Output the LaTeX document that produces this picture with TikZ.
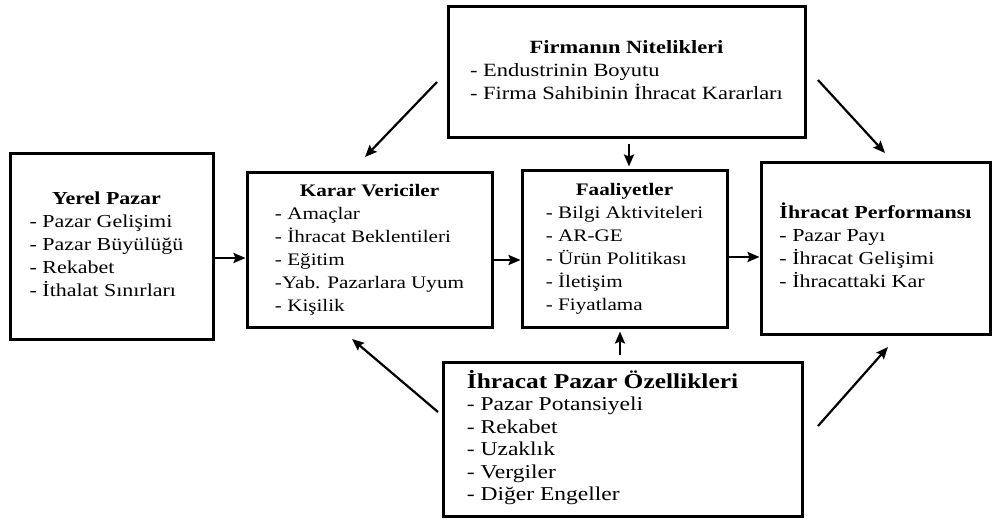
\documentclass[tikz,border=0pt]{standalone}
\usepackage{fontspec}
\setmainfont[FakeStretch=1.2]{Liberation Serif}
\usetikzlibrary{arrows.meta}
\newcommand{\blk}[2]{\begin{tabular}{@{}l@{}}\multicolumn{1}{@{}c@{}}{\textbf{#1}}\\#2\end{tabular}}
\begin{document}
\begin{tikzpicture}[x=1pt,y=-1pt,
  box/.style={draw,line width=3pt,rectangle,inner sep=0pt,font=\fontsize{18.3}{23}\selectfont},
  arr/.style={line width=2.2pt,-{Stealth[length=12pt,width=10pt,inset=2pt]}}]
\useasboundingbox (0,0) rectangle (993,519);
\fill[white] (0,0) rectangle (993,519);
% boxes
\node[box,minimum width=203pt,minimum height=186pt] (yerel) at (111.5,246)
  {\blk{Yerel Pazar}{- Pazar Gelişimi\\- Pazar Büyülüğü\\- Rekabet\\- İthalat Sınırları}\hspace*{10pt}};
\node[box,minimum width=245pt,minimum height=155pt,font=\fontsize{17.6}{23}\selectfont] (karar) at (369.5,249.5)
  {\blk{Karar Vericiler}{- Amaçlar\\- İhracat Beklentileri\\- Eğitim\\-Yab. Pazarlara Uyum\\- Kişilik}};
\node[box,minimum width=205pt,minimum height=157pt,font=\fontsize{17.6}{23}\selectfont] (faal) at (624.5,248.5)
  {\blk{Faaliyetler}{- Bilgi Aktiviteleri\\- AR-GE\\- Ürün Politikası\\- İletişim\\- Fiyatlama}};
\node[box,minimum width=229pt,minimum height=172pt] (perf) at (875.5,248)
  {\blk{İhracat Performansı}{- Pazar Payı\\- İhracat Gelişimi\\- İhracattaki Kar}};
\node[box,minimum width=357pt,minimum height=130pt,font=\fontsize{18.7}{23}\selectfont] (firma) at (626.5,72)
  {\blk{Firmanın Nitelikleri}{- Endustrinin Boyutu\\- Firma Sahibinin İhracat Kararları}};
\node[box,minimum width=359pt,minimum height=154pt,font=\fontsize{19.6}{22.5}\selectfont] (export) at (622.5,439)
  {\begin{tabular}{@{}l@{}}\multicolumn{1}{@{}c@{}}{\fontsize{21.2}{22.5}\selectfont\textbf{İhracat Pazar Özellikleri}}\\- Pazar Potansiyeli\\- Rekabet\\- Uzaklık\\- Vergiler\\- Diğer Engeller\end{tabular}\hspace*{40pt}};
% helper coordinates
\coordinate (h1) at (0,258);
\coordinate (h2) at (0,260);
\coordinate (h3) at (0,257);
\coordinate (c1) at (437,82);
\coordinate (c2) at (365,157);
\coordinate (c3) at (818,80);
\coordinate (c4) at (885,153);
\coordinate (c5) at (438,412);
\coordinate (c6) at (352,339);
\coordinate (c7) at (818,426);
\coordinate (c8) at (888,347);
% connectors
\draw[arr] (yerel.east |- h1) -- (karar.west |- h1);
\draw[arr] (karar.east |- h2) -- (faal.west |- h2);
\draw[arr] (faal.east |- h3) -- (perf.west |- h3);
\draw[arr,shorten <=5pt,shorten >=2pt] ([xshift=2.5pt]firma.south) -- ([xshift=2.5pt]firma.south |- faal.north);
\draw[arr,shorten <=6pt,shorten >=3pt] ([xshift=-2.5pt]export.north) -- ([xshift=-2.5pt]export.north |- faal.south);
\draw[arr] (c1) -- (c2);
\draw[arr] (c3) -- (c4);
\draw[arr] (c5) -- (c6);
\draw[arr] (c7) -- (c8);
\end{tikzpicture}
\end{document}
